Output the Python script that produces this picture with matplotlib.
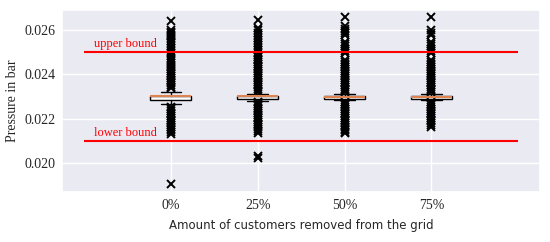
import numpy as np
import matplotlib.pyplot as plt
import seaborn as sns

sns.set_theme(style="darkgrid")

labels = ["0%", "25%", "50%", "75%"]
medians = [0.02300, 0.02300, 0.02298, 0.02298]
q1 = [0.02285, 0.02287, 0.02290, 0.02290]
q3 = [0.02302, 0.02302, 0.02300, 0.02300]
whislo = [0.02264, 0.02280, 0.02283, 0.02283]
whishi = [0.02320, 0.02310, 0.02313, 0.02313]

fliers_0 = [0.02638, 0.02598, 0.02591, 0.02584, 0.02577, 0.02569, 0.02560, 0.02549,
            0.02538, 0.02528, 0.02519, 0.02506, 0.02494, 0.02481, 0.02468, 0.02457,
            0.02448, 0.02439, 0.02431, 0.02423, 0.02415, 0.02407, 0.02399, 0.02391,
            0.02383, 0.02375, 0.02367, 0.02359, 0.02351, 0.02343, 0.02336,
            0.02252, 0.02244, 0.02236, 0.02228, 0.02220, 0.02212, 0.02204, 0.02196,
            0.02188, 0.02180, 0.02172, 0.02164, 0.02156, 0.02148, 0.02140, 0.02132,
            0.01906]
fliers_25 = [0.02643, 0.02606, 0.02596, 0.02586, 0.02575, 0.02563, 0.02551, 0.02540,
             0.02529, 0.02518, 0.02508, 0.02494, 0.02486, 0.02478, 0.02470, 0.02462,
             0.02454, 0.02446, 0.02438, 0.02430, 0.02422, 0.02414, 0.02406, 0.02398,
             0.02390, 0.02382, 0.02374, 0.02366, 0.02358, 0.02350, 0.02342, 0.02334,
             0.02326, 0.02318,
             0.02274, 0.02266, 0.02258, 0.02250, 0.02242, 0.02234, 0.02226, 0.02218,
             0.02210, 0.02202, 0.02194, 0.02186, 0.02178, 0.02170, 0.02162, 0.02154,
             0.02146, 0.02138, 0.02034, 0.02024]
fliers_50 = [0.02657, 0.02614, 0.02604, 0.02594, 0.02584, 0.02576, 0.02545, 0.02535,
             0.02524, 0.02514, 0.02504, 0.02494, 0.02463, 0.02455, 0.02447, 0.02439,
             0.02431, 0.02423, 0.02415, 0.02407, 0.02399, 0.02391, 0.02383, 0.02375,
             0.02367, 0.02359, 0.02351, 0.02343, 0.02335, 0.02327, 0.02320,
             0.02276, 0.02268, 0.02260, 0.02252, 0.02244, 0.02236, 0.02228, 0.02220,
             0.02212, 0.02204, 0.02196, 0.02188, 0.02180, 0.02172, 0.02164, 0.02156,
             0.02148, 0.02140, 0.02134]
fliers_75 = [0.02657, 0.02596, 0.02586, 0.02576, 0.02545, 0.02535, 0.02524, 0.02514,
             0.02504, 0.02494, 0.02463, 0.02455, 0.02447, 0.02439, 0.02431, 0.02423,
             0.02415, 0.02407, 0.02399, 0.02391, 0.02383, 0.02375, 0.02367, 0.02359,
             0.02351, 0.02343, 0.02335, 0.02327, 0.02320,
             0.02276, 0.02268, 0.02260, 0.02252, 0.02244, 0.02236, 0.02228, 0.02220,
             0.02212, 0.02204, 0.02196, 0.02188, 0.02180, 0.02172, 0.02164]
fliers = [fliers_0, fliers_25, fliers_50, fliers_75]

upper_bound = 0.025
lower_bound = 0.021

serif = ["Liberation Serif", "DejaVu Serif"]

stats = []
for i in range(len(labels)):
    stats.append(dict(med=medians[i], q1=q1[i], q3=q3[i], whislo=whislo[i],
                      whishi=whishi[i], fliers=fliers[i], label=labels[i]))

fig = plt.figure(figsize=(5.5, 2.42), dpi=100)
ax = fig.add_axes([0.113, 0.207, 0.869, 0.752])

ax.bxp(stats, positions=[1, 2, 3, 4], widths=0.47, patch_artist=True,
       boxprops=dict(facecolor="white", edgecolor="black", linewidth=1),
       medianprops=dict(color="#dd8452", linewidth=1.5),
       whiskerprops=dict(color="black", linewidth=1),
       capprops=dict(color="black", linewidth=1),
       flierprops=dict(marker="x", markersize=6, markeredgecolor="black",
                       markeredgewidth=1.4))

ax.hlines([upper_bound, lower_bound], 0, 5, colors="red", linewidth=1.5)
ax.text(0.12, upper_bound + 0.00008, "upper bound", color="red", fontsize=9,
        family=serif, va="bottom")
ax.text(0.12, lower_bound + 0.00008, "lower bound", color="red", fontsize=9,
        family=serif, va="bottom")

ax.set_xlim(-0.25, 5.25)
ax.set_ylim(0.01872, 0.02688)
ax.set_yticks([0.020, 0.022, 0.024, 0.026])
ax.set_yticklabels(["0.020", "0.022", "0.024", "0.026"], family=serif, fontsize=10)
ax.set_xticks([1, 2, 3, 4])
ax.set_xticklabels(labels, family=serif, fontsize=10)
ax.tick_params(axis="both", length=0, pad=5)

ax.set_ylabel("Pressure in bar", family=serif, fontsize=10)
ax.set_xlabel("Amount of customers removed from the grid", fontsize=8.5, labelpad=5)

fig.savefig("out.png", dpi=100)
